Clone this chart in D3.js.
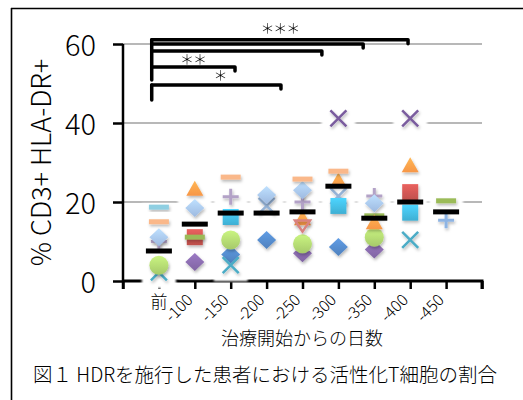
<!DOCTYPE html>
<html>
<head>
<meta charset="utf-8">
<script src="https://cdn.jsdelivr.net/npm/d3@7"></script>
<style>
  html, body { margin: 0; padding: 0; background: #fff; }
  svg { display: block; font-family: "Noto Sans CJK JP", "Noto Sans", sans-serif; font-weight: 300; }
</style>
</head>
<body>
<svg id="chart" width="523" height="400"></svg>
<script>
/* Activated T-cell share after HDR — one marker style per patient series,
   black bar = group mean, brackets = significance vs. "前". */

var categories = ['前', '-100', '-150', '-200', '-250', '-300', '-350', '-400', '-450'];
var yTicks = [0, 20, 40, 60];
var meanValues = [7.6, 14.4, 17.2, 17.2, 17.5, 24.0, 15.9, 20.0, 17.5];

// per-series values, one slot per category (null = no sample)
var lilacPlus        = [10.0, null, 21.3, null, 20.0, null, 21.5, null, null];
var lightBlueX       = [null, null, null, 19.0, null, 21.5, null, null, null];
var purpleDiamond    = [null, 4.8, null, null, 7.0, null, 8.0, null, null];
var darkBlueDiamond  = [null, null, 6.7, 10.4, null, 8.6, null, null, null];
var tealX            = [2.2, null, 4.0, null, null, null, null, 10.4, null];
var redSquare        = [null, 11.1, null, null, null, null, null, 22.5, null];
var greenDash        = [null, 11.1, null, null, null, null, 16.5, null, 20.3];
var greenCircle      = [4.0, null, 10.4, null, 9.4, null, 11.1, null, null];
var orangeTriangle   = [null, 23.5, null, null, 16.0, 25.6, 15.0, 29.4, null];
var cyanSquare       = [null, null, 16.2, null, null, 19.0, null, 17.3, null];
var lightBlueDiamond = [11.1, 18.5, null, 21.8, 23.0, null, 19.7, null, null];
var orangeDash       = [15.0, null, 26.3, null, 25.8, 27.8, null, null, null];
var cyanDash         = [18.7, null, null, null, null, null, null, null, null];
var purpleX          = [null, null, null, null, null, 41.2, null, 41.2, null];
var lightBluePlus    = [null, null, null, null, null, null, null, null, 15.4];
var salmonTriDown    = [null, null, null, null, 13.9, null, null, null, null];

// significance brackets: start/end in category-slot units, height in % units
var bracketEnds   = [7.94, 6.69, 5.54, 3.12, 4.40];
var bracketLevels = [61.1, 60.0, 58.2, 54.2, 49.6];
var starLabels = [
  { text: '＊＊＊', slot: 4.37, v: 64.0 },
  { text: '＊＊',   slot: 1.95, v: 56.2 },
  { text: '＊',     slot: 2.70, v: 52.2 }
];

(function () {
  'use strict';

  var svg = d3.select('#chart');
  var defs = svg.append('defs');

  var x = d3.scaleLinear().domain([0, 10]).range([123, 482]);
  var y = d3.scaleLinear().domain([0, 60]).range([281, 44]);

  var series = [
    { vals: lilacPlus,        shape: 'plus',     color: '#B3A2C7' },
    { vals: lightBlueX,       shape: 'x',        color: '#95B3D7' },
    { vals: purpleDiamond,    shape: 'diamond',  color: '#8064A2' },
    { vals: darkBlueDiamond,  shape: 'diamond',  color: '#4F81BD' },
    { vals: tealX,            shape: 'x',        color: '#4BACC6' },
    { vals: redSquare,        shape: 'square',   color: '#C0504D' },
    { vals: greenDash,        shape: 'dash',     color: '#9BBB59' },
    { vals: greenCircle,      shape: 'circle',   color: '#A6C96A' },
    { vals: orangeTriangle,   shape: 'triangle', color: '#F79646' },
    { vals: cyanSquare,       shape: 'square',   color: '#3FAFD3' },
    { vals: lightBlueDiamond, shape: 'diamond',  color: '#9DB9E0' },
    { vals: orangeDash,       shape: 'dash',     color: '#FAB88A' },
    { vals: cyanDash,         shape: 'dash',     color: '#8ECFE2' },
    { vals: purpleX,          shape: 'x',        color: '#7A5C9E' },
    { vals: lightBluePlus,    shape: 'plus',     color: '#8EB4E3' },
    { vals: salmonTriDown,    shape: 'tridown',  color: '#D9827F' }
  ];

  /* ---- filters ---- */
  var glow = defs.append('filter').attr('id', 'halo')
    .attr('x', '-30%').attr('y', '-30%').attr('width', '160%').attr('height', '160%');
  glow.append('feGaussianBlur').attr('stdDeviation', 1.2);

  var shadow = defs.append('filter').attr('id', 'shadow')
    .attr('x', '-40%').attr('y', '-40%').attr('width', '180%').attr('height', '180%');
  shadow.append('feDropShadow').attr('dx', 1).attr('dy', 2)
    .attr('stdDeviation', 1.4).attr('flood-color', '#000').attr('flood-opacity', 0.28);

  function gradFor(color, i) {
    var id = 'g' + i;
    var g = defs.append('linearGradient').attr('id', id)
      .attr('x1', 0).attr('y1', 0).attr('x2', 0).attr('y2', 1);
    g.append('stop').attr('offset', '0%').attr('stop-color', d3.color(color).brighter(0.55));
    g.append('stop').attr('offset', '100%').attr('stop-color', color);
    return 'url(#' + id + ')';
  }

  /* ---- outer frame (left + top edges only) ---- */
  svg.append('line').attr('x1', 11.5).attr('y1', 8).attr('x2', 11.5).attr('y2', 400)
    .attr('stroke', '#000').attr('stroke-width', 1.6);
  svg.append('line').attr('x1', 11).attr('y1', 8.5).attr('x2', 523).attr('y2', 8.5)
    .attr('stroke', '#000').attr('stroke-width', 1.6);

  /* ---- gridlines ---- */
  svg.append('g').selectAll('line').data(yTicks.filter(function (t) { return t > 0; }))
    .join('line')
    .attr('x1', x(0)).attr('x2', x(10))
    .attr('y1', function (d) { return y(d); }).attr('y2', function (d) { return y(d); })
    .attr('stroke', '#A0A0A0').attr('stroke-width', 1.5);

  /* ---- axes ---- */
  var yAxis = svg.append('g').attr('transform', 'translate(' + x(0) + ',0)')
    .call(d3.axisLeft(y).tickValues(yTicks).tickSize(10).tickPadding(17));
  yAxis.select('.domain').attr('stroke', '#000').attr('stroke-width', 2.5)
    .attr('d', 'M0,' + y(60) + 'V' + (y(0) + 8));
  yAxis.selectAll('.tick line').attr('stroke', '#000').attr('stroke-width', 2.5);
  yAxis.selectAll('.tick text').attr('fill', '#000')
    .style('font-family', '"Noto Sans CJK JP", sans-serif').style('font-weight', 300)
    .style('font-size', '29px').attr('dy', '0.40em');

  var xAxis = svg.append('g').attr('transform', 'translate(0,' + y(0) + ')')
    .call(d3.axisBottom(x).tickValues(d3.range(0, 11)).tickSize(8)
      .tickFormat(function () { return ''; }));
  xAxis.select('.domain').attr('stroke', '#000').attr('stroke-width', 3)
    .attr('d', 'M' + x(0) + ',0H' + x(10) + 'V8');
  xAxis.selectAll('.tick line').attr('stroke', '#000').attr('stroke-width', 2.5);

  /* category labels */
  var lab = svg.append('g');
  categories.forEach(function (c, i) {
    var cx = x(i + 1);
    if (i === 0) {
      lab.append('text').attr('x', cx).attr('y', y(0) + 27)
        .attr('text-anchor', 'middle').style('font-size', '17px').text(c);
    } else {
      lab.append('text')
        .attr('transform', 'translate(' + (cx - 1) + ',' + (y(0) + 20) + ') rotate(-45)')
        .attr('text-anchor', 'end').style('font-size', '16px').text(c);
    }
  });

  /* axis titles and caption */
  svg.append('text')
    .attr('transform', 'translate(51,' + ((y(0) + y(60)) / 2) + ') rotate(-90)')
    .attr('text-anchor', 'middle').style('font-size', '27px').text('% CD3+ HLA-DR+');
  svg.append('text').attr('x', 302).attr('y', 345)
    .attr('text-anchor', 'middle').style('font-size', '18px').text('治療開始からの日数');
  svg.append('text').attr('x', 33).attr('y', 382)
    .style('font-size', '19.5px').text('図１ HDRを施行した患者における活性化T細胞の割合');

  /* ---- markers ---- */
  var dims = {
    diamond: [19, 18], square: [16, 16], circle: [19, 19], triangle: [17, 15],
    x: [16, 16], plus: [16, 16], dash: [20, 5], tridown: [15, 11]
  };

  function shapePath(shape, w, h) {
    var a = w / 2, b = h / 2;
    switch (shape) {
      case 'diamond': return 'M0,' + (-b) + 'L' + a + ',0L0,' + b + 'L' + (-a) + ',0Z';
      case 'square':
      case 'dash': return 'M' + (-a) + ',' + (-b) + 'H' + a + 'V' + b + 'H' + (-a) + 'Z';
      case 'triangle': return 'M0,' + (-b) + 'L' + a + ',' + b + 'H' + (-a) + 'Z';
      case 'tridown': return 'M' + (-a) + ',' + (-b) + 'H' + a + 'L0,' + b + 'Z';
      case 'x': return 'M' + (-a) + ',' + (-b) + 'L' + a + ',' + b + 'M' + a + ',' + (-b) + 'L' + (-a) + ',' + b;
      case 'plus': return 'M' + (-a) + ',0H' + a + 'M0,' + (-b) + 'V' + b;
    }
    return '';
  }

  var points = [];
  series.forEach(function (s, si) {
    s.vals.forEach(function (v, i) {
      if (v !== null) points.push({ s: s, si: si, slot: i + 1, v: v });
    });
  });

  // white glow behind every marker (hides grid and axis around them)
  svg.append('g').attr('filter', 'url(#halo)').selectAll('rect').data(points).join('rect')
    .attr('x', function (d) { return x(d.slot) - 17; })
    .attr('y', function (d) {
      var h = dims[d.s.shape][1], pad = d.s.shape === 'dash' ? 1 : 8;
      return y(d.v) - h / 2 - pad;
    })
    .attr('width', 34)
    .attr('height', function (d) {
      var h = dims[d.s.shape][1], pad = d.s.shape === 'dash' ? 1 : 8;
      return h + 2 * pad;
    })
    .attr('fill', '#fff');

  var mg = svg.append('g');
  series.forEach(function (s, si) {
    var wh = dims[s.shape];
    var stroked = s.shape === 'x' || s.shape === 'plus' || s.shape === 'tridown';
    var fill = stroked ? 'none' : (s.shape === 'dash' ? s.color : gradFor(s.color, si));
    var pts = points.filter(function (p) { return p.si === si; });
    var sel = mg.append('g').attr('filter', 'url(#shadow)').selectAll('path').data(pts).join('path')
      .attr('transform', function (d) { return 'translate(' + x(d.slot) + ',' + y(d.v) + ')'; });
    if (s.shape === 'circle') {
      sel.attr('d', d3.symbol().type(d3.symbolCircle).size(Math.PI * wh[0] * wh[0] / 4)());
    } else {
      sel.attr('d', shapePath(s.shape, wh[0], wh[1]));
    }
    sel.attr('fill', fill)
      .attr('stroke', stroked ? s.color : 'none')
      .attr('stroke-width', s.shape === 'plus' ? 3 : 2.5);
  });

  /* group means */
  svg.append('g').selectAll('rect').data(meanValues).join('rect')
    .attr('x', function (d, i) { return x(i + 1) - 13; })
    .attr('y', function (d) { return y(d) - 2.5; })
    .attr('width', 26).attr('height', 5).attr('fill', '#000');

  /* ---- significance brackets ---- */
  var bg = svg.append('g').attr('fill', 'none').attr('stroke', '#000')
    .attr('stroke-width', 3.5).attr('stroke-linejoin', 'round').attr('stroke-linecap', 'round');
  var x0 = x(0.8);
  bracketEnds.forEach(function (end, i) {
    var lv = y(bracketLevels[i]);
    bg.append('path').attr('d', 'M' + x0 + ',' + lv + 'H' + x(end) + 'v4');
  });
  bg.append('path').attr('d', 'M' + x0 + ',' + y(bracketLevels[0]) + 'V' + y(50.9));
  bg.append('path').attr('d', 'M' + x0 + ',' + y(bracketLevels[4]) + 'V' + y(45.8));

  svg.append('g').selectAll('text').data(starLabels).join('text')
    .attr('x', function (d) { return x(d.slot); })
    .attr('y', function (d) { return y(d.v); })
    .attr('dy', '0.35em').attr('text-anchor', 'middle')
    .style('font-size', '14px').style('letter-spacing', '-1px')
    .text(function (d) { return d.text; });
})();
</script>
</body>
</html>
